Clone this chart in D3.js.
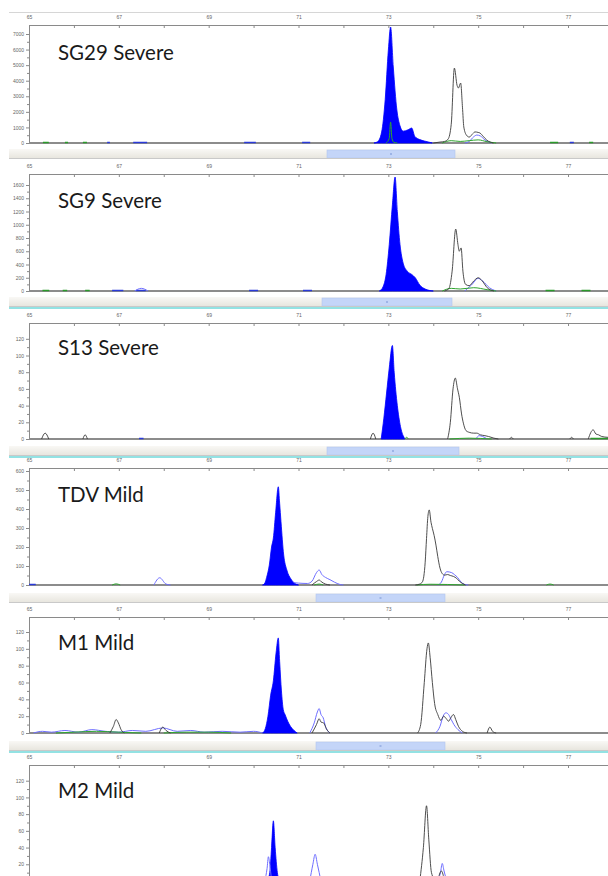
<!DOCTYPE html>
<html>
<head>
<meta charset="utf-8">
<script src="https://cdn.jsdelivr.net/npm/d3@7"></script>
<style>
body { margin: 0; background: #fff; }
.tick text { font-family: "Liberation Sans", sans-serif; font-size: 5px; fill: #666; }
.tick line, .domain { stroke: #8a8a8a; }
.lab { font-family: Lato, "Open Sans", sans-serif; font-size: 20.5px; fill: #1a1a1a; }
</style>
</head>
<body>
<svg id="chart" width="608" height="876"></svg>
<script>
// ---- data (bp, rfu) ----
var panelNames = ["SG29 Severe", "SG9 Severe", "S13 Severe", "TDV Mild", "M1 Mild", "M2 Mild"];
var xTicks = [65, 66, 67, 68, 69, 70, 71, 72, 73, 74, 75, 76, 77];
var yTickMax = [7000, 1600, 120, 600, 120, 120];
var yTickStep = [1000, 200, 20, 100, 20, 20];

// filled blue peak of each panel
var filledPeaks = [
    [[72.68,0],[72.76,80],[72.85,700],[72.93,2800],[73.0,5970],[73.05,7450],[73.11,4880],[73.19,2120],[73.26,1100],[73.33,760],[73.44,850],[73.52,960],[73.59,420],[73.7,220],[73.8,130],[73.98,0]],
    [[72.80,0],[72.88,60],[72.95,250],[73.02,700],[73.09,1300],[73.15,1720],[73.2,1200],[73.26,700],[73.33,420],[73.42,300],[73.52,250],[73.6,200],[73.7,90],[73.82,30],[74.0,0]],
    [[72.84,0],[72.9,25],[72.96,55],[73.02,85],[73.09,112],[73.13,80],[73.2,40],[73.27,15],[73.37,0]],
    [[70.2,0],[70.25,10],[70.29,40],[70.35,105],[70.4,200],[70.44,247],[70.49,380],[70.55,517],[70.58,430],[70.61,333],[70.67,158],[70.74,79],[70.83,32],[70.91,10],[71.0,0]],
    [[70.2,0],[70.26,5],[70.32,20],[70.38,45],[70.44,62],[70.5,95],[70.55,113],[70.58,85],[70.62,50],[70.66,28],[70.7,22],[70.76,14],[70.82,8],[70.9,3],[70.97,0]],
    [[70.3,0],[70.36,10],[70.4,40],[70.44,72],[70.48,40],[70.53,10],[70.58,0]]
];

// black outline trace, list of segments per panel
var blackTraces = [
    [[[74.0,0],[74.15,60],[74.25,100],[74.33,250],[74.4,1200],[74.47,4810],[74.53,3700],[74.56,3530],[74.61,3850],[74.65,2300],[74.68,1030],[74.74,500],[74.8,380],[74.88,600],[74.93,710],[75.0,680],[75.04,640],[75.12,400],[75.19,190],[75.34,0]]],
    [[[74.25,0],[74.35,40],[74.42,300],[74.5,935],[74.55,700],[74.58,600],[74.62,650],[74.66,300],[74.72,100],[74.8,80],[74.9,150],[75.0,200],[75.08,160],[75.2,50],[75.35,0]]],
    [[[65.28,0],[65.36,7],[65.44,0]], [[66.2,0],[66.25,5],[66.3,0]], [[72.6,0],[72.66,7],[72.72,0]],
     [[74.32,0],[74.38,20],[74.44,60],[74.49,73],[74.54,60],[74.58,50],[74.63,30],[74.67,19],[74.73,10],[74.8,8],[74.9,7],[74.97,7],[75.05,5],[75.15,4],[75.23,3],[75.35,1],[75.45,0]],
     [[75.7,0],[75.74,2],[75.78,0]], [[77.04,0],[77.08,2],[77.12,0]],
     [[77.45,0],[77.56,11],[77.62,6],[77.68,5],[77.75,3],[77.89,2]]],
    [[[71.3,0],[71.4,18],[71.46,26],[71.52,15],[71.6,5],[71.7,0]],
     [[73.6,0],[73.7,5],[73.76,17],[73.82,120],[73.85,245],[73.88,360],[73.91,395],[73.95,330],[73.98,298],[74.02,260],[74.06,210],[74.1,150],[74.15,89],[74.2,60],[74.25,52],[74.32,55],[74.38,50],[74.45,45],[74.52,35],[74.58,20],[74.65,8],[74.72,0]]],
    [[[66.8,0],[66.88,8],[66.94,16],[66.99,12],[67.05,4],[67.12,0]], [[67.9,0],[67.98,7],[68.05,3],[68.15,0]],
     [[71.3,0],[71.4,10],[71.46,17],[71.5,13],[71.56,12],[71.62,5],[71.7,0]],
     [[73.65,0],[73.72,10],[73.8,60],[73.86,100],[73.89,107],[73.93,90],[73.98,60],[74.03,35],[74.1,22],[74.17,15],[74.23,20],[74.29,17],[74.34,14],[74.39,18],[74.45,22],[74.5,16],[74.56,8],[74.65,2],[74.75,0]],
     [[75.2,0],[75.26,7],[75.32,2],[75.4,0]]],
    [[[73.7,0],[73.78,40],[73.85,90],[73.9,50],[73.96,10],[74.05,0]], [[74.1,0],[74.18,12],[74.25,0]]]
];

// light blue outline trace
var blueTraces = [
    [[[74.7,0],[74.8,100],[74.9,400],[74.97,510],[75.05,450],[75.15,200],[75.3,0]]],
    [[[67.35,0],[67.5,40],[67.65,0]], [[74.7,0],[74.85,90],[75.0,190],[75.1,150],[75.25,50],[75.4,0]]],
    [[[74.95,0],[75.02,4],[75.1,3],[75.2,0]]],
    [[[67.78,0],[67.91,38],[68.05,5],[68.15,0]],
     [[70.9,12],[71.0,10],[71.2,8],[71.3,20],[71.4,65],[71.46,79],[71.52,55],[71.6,40],[71.7,28],[71.8,15],[71.92,3],[72.0,0]],
     [[74.1,0],[74.18,15],[74.25,55],[74.3,70],[74.41,65],[74.47,55],[74.54,40],[74.62,15],[74.7,3],[74.78,0]]],
    [[[65.1,0],[65.3,2],[65.5,1],[65.8,3],[66.1,1],[66.4,4],[66.7,2],[67.0,1],[67.3,3],[67.6,2],[67.98,6],[68.3,2],[68.6,3],[68.9,1],[69.3,2],[69.7,1],[70.0,2],[70.2,0]],
     [[71.25,0],[71.35,12],[71.42,25],[71.46,29],[71.5,22],[71.55,18],[71.6,8],[71.7,0]],
     [[74.05,0],[74.15,8],[74.22,20],[74.28,24],[74.34,22],[74.4,16],[74.46,10],[74.55,4],[74.65,0]]],
    [[[70.25,0],[70.3,15],[70.33,29],[70.36,20],[70.4,0]], [[71.25,0],[71.32,20],[71.37,32],[71.42,20],[71.5,0]], [[74.1,0],[74.16,10],[74.2,21],[74.24,12],[74.3,0]]]
];

// green trace
var greenTraces = [
    [[[72.95,0],[73.02,300],[73.05,1350],[73.08,300],[73.12,50],[73.2,0]], [[74.2,0],[74.4,150],[74.6,100],[74.8,150],[75.0,200],[75.2,80],[75.4,0]]],
    [[[74.2,0],[74.4,40],[74.6,30],[74.9,50],[75.2,20],[75.4,0]]],
    [[[73.37,0],[73.4,2],[73.45,0]], [[74.36,0],[74.8,1],[75.3,0]]],
    [[[66.85,0],[66.94,6],[67.03,0]], [[71.35,0],[71.46,5],[71.55,0]], [[73.63,0],[73.93,4],[74.7,0]], [[76.52,0],[76.6,5],[76.68,0]]],
    [[[65.6,0],[66.0,1],[66.5,2],[67.0,1],[67.5,0]], [[68.0,0],[68.5,1],[69.0,1],[69.5,0]]],
    []
];

// short baseline marks: [from bp, to bp, colour]
var baselineMarks = [
    [[65.31,65.44,"#2a9a2a"],[65.8,65.87,"#2a9a2a"],[66.2,66.29,"#2a9a2a"],[66.74,66.8,"#2a3ad8"],[67.32,67.63,"#2a3ad8"],[69.79,70.05,"#2a3ad8"],[71.08,71.26,"#2a3ad8"],[76.6,76.78,"#2a9a2a"],[77.04,77.13,"#2a3ad8"],[77.47,77.56,"#2a9a2a"]],
    [[65.3,65.45,"#2a9a2a"],[65.75,65.85,"#2a9a2a"],[66.25,66.35,"#2a9a2a"],[66.85,67.1,"#2a3ad8"],[67.38,67.6,"#2a3ad8"],[69.9,70.1,"#2a3ad8"],[71.1,71.3,"#2a3ad8"],[76.5,76.7,"#2a9a2a"],[77.3,77.5,"#2a9a2a"]],
    [[67.45,67.55,"#2a3ad8"],[77.5,77.89,"#2a9a2a"]],
    [[65.0,65.15,"#2a3ad8"]],
    [],
    []
];

// ---- layout ----
var axisTopY = [25, 174, 323, 468, 617, 765];
var baseY = [143, 291, 439, 585, 733, 881];
var tickMaxY = [34, 185, 338.8, 471, 632, 780.7];
var scrollY = [149, 297, 446, 593, 741];
var thumbX = [[327, 455], [322, 452], [327, 459], [316, 445], [316, 445]];
var cyanUnder = [false, true, true, false, true];
var labelY = [60, 208, 355, 502, 650, 798];
var H = 876;

var svg = d3.select("#chart");
var x = d3.scaleLinear().domain([65, 77.89]).range([29, 608]);

var defs = svg.append("defs");
var grad = defs.append("linearGradient").attr("id", "band").attr("x1", 0).attr("x2", 0).attr("y1", 0).attr("y2", 1);
grad.append("stop").attr("offset", "0%").attr("stop-color", "#f9f8f5");
grad.append("stop").attr("offset", "100%").attr("stop-color", "#e8e6df");

svg.append("line").attr("x1", 9).attr("x2", 608).attr("y1", 12.5).attr("y2", 12.5).attr("stroke", "#d6d6d6");

panelNames.forEach(function (name, i) {
    var y = d3.scaleLinear().domain([0, yTickMax[i]]).range([baseY[i], tickMaxY[i]]);
    var g = svg.append("g");

    defs.append("clipPath").attr("id", "clip" + i).append("rect")
        .attr("x", 29).attr("y", axisTopY[i]).attr("width", 579).attr("height", baseY[i] - axisTopY[i] + 1);

    // top bp axis
    var top = g.append("g").attr("transform", "translate(0," + axisTopY[i] + ")")
        .call(d3.axisTop(x).tickValues(xTicks).tickSizeInner(-3).tickSizeOuter(0).tickPadding(6)
            .tickFormat(function (d) { return d % 2 ? d : ""; }));
    top.select(".domain").attr("d", "M29,0.5H608");

    // left rfu axis, only ticks that fall inside the picture
    var yt = d3.range(0, yTickMax[i] + 0.01, yTickStep[i] / 2).filter(function (v) { return y(v) < H - 3; });
    var left = g.append("g").attr("transform", "translate(29,0)")
        .call(d3.axisLeft(y).tickValues(yt).tickSizeInner(3).tickSizeOuter(0).tickPadding(2)
            .tickFormat(function (d) { return d % yTickStep[i] === 0 ? d : ""; }));
    left.select(".domain").attr("d", "M0.5," + axisTopY[i] + "V" + baseY[i]);
    left.selectAll(".tick").filter(function (d) { return d % yTickStep[i] !== 0; })
        .select("line").attr("x2", -2);

    // baseline
    g.append("line").attr("x1", 29).attr("x2", 608).attr("y1", baseY[i]).attr("y2", baseY[i])
        .attr("stroke", "#8c8c8c").attr("stroke-width", 2);

    var plot = g.append("g").attr("clip-path", "url(#clip" + i + ")");
    var line = d3.line().x(function (d) { return x(d[0]); }).y(function (d) { return y(d[1]); })
        .curve(d3.curveMonotoneX);
    var area = d3.area().x(function (d) { return x(d[0]); }).y0(y(0)).y1(function (d) { return y(d[1]); })
        .curve(d3.curveMonotoneX);

    baselineMarks[i].forEach(function (m) {
        plot.append("line").attr("x1", x(m[0])).attr("x2", x(m[1]))
            .attr("y1", baseY[i] - 0.5).attr("y2", baseY[i] - 0.5)
            .attr("stroke", m[2]).attr("stroke-width", 1.5);
    });

    plot.append("path").datum(filledPeaks[i]).attr("d", area)
        .attr("fill", "#0000ff").attr("stroke", "#0000ff").attr("stroke-width", 0.8);

    blueTraces[i].forEach(function (s) {
        plot.append("path").datum(s).attr("d", line).attr("fill", "none")
            .attr("stroke", "#6e6eff").attr("stroke-width", 1);
    });
    greenTraces[i].forEach(function (s) {
        plot.append("path").datum(s).attr("d", line).attr("fill", "none")
            .attr("stroke", "#2fa52f").attr("stroke-width", 1);
    });
    blackTraces[i].forEach(function (s) {
        plot.append("path").datum(s).attr("d", line).attr("fill", "none")
            .attr("stroke", "#3a3a3a").attr("stroke-width", 0.9);
    });

    g.append("text").attr("class", "lab").attr("x", 58).attr("y", labelY[i]).text(name);

    // scroll strip under the panel
    if (i < scrollY.length) {
        g.append("rect").attr("x", 9).attr("y", scrollY[i]).attr("width", 599).attr("height", 9)
            .attr("fill", "url(#band)");
        g.append("rect").attr("x", thumbX[i][0]).attr("y", scrollY[i] + 1)
            .attr("width", thumbX[i][1] - thumbX[i][0]).attr("height", 8)
            .attr("fill", "#c4d5f8").attr("stroke", "#b3c6ef").attr("stroke-width", 0.6);
        g.append("rect").attr("x", (thumbX[i][0] + thumbX[i][1]) / 2 - 1).attr("y", scrollY[i] + 4)
            .attr("width", 2).attr("height", 2).attr("fill", "#9db4e6");
        g.append("line").attr("x1", 9).attr("x2", 608)
            .attr("y1", scrollY[i] + 9.5).attr("y2", scrollY[i] + 9.5)
            .attr("stroke", "#c9c9c9");
        if (cyanUnder[i]) {
            g.append("line").attr("x1", 9).attr("x2", 608)
                .attr("y1", scrollY[i] + 11).attr("y2", scrollY[i] + 11)
                .attr("stroke", "#6fd8da").attr("stroke-width", 1.5);
        }
    }
});
</script>
</body>
</html>
